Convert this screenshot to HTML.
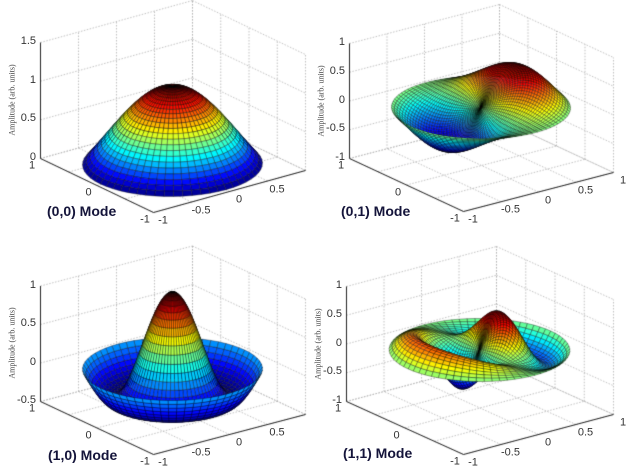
<!DOCTYPE html>
<html><head><meta charset="utf-8"><style>
html,body{margin:0;padding:0;background:#fff;}
#c{position:absolute;left:0;top:0;}
.t{position:absolute;font-family:"Liberation Sans",sans-serif;font-size:11px;color:#333;line-height:11px;white-space:nowrap;}
.m{position:absolute;font-family:"Liberation Sans",sans-serif;font-weight:bold;font-size:14px;color:#14143a;white-space:nowrap;}
.a{position:absolute;font-family:"Liberation Serif",serif;font-size:8px;color:#444;white-space:nowrap;transform:translate(-50%,-50%) rotate(-90deg);}
</style></head><body>
<canvas id="c" width="626" height="472"></canvas>
<div id="lab"></div>
<script>
function fact(n){let f=1;for(let i=2;i<=n;i++)f*=i;return f;}
function J(n,x){let s=0;for(let k=0;k<30;k++){s+=Math.pow(-1,k)/(fact(k)*fact(k+n))*Math.pow(x/2,2*k+n);}return s;}
function jet(v){v=Math.max(0,Math.min(1,v));
 function c(x){return Math.max(0,Math.min(1,x));}
 let r=c(1.5-Math.abs(4*v-3)),g=c(1.5-Math.abs(4*v-2)),b=c(1.5-Math.abs(4*v-1));
 return 'rgb('+Math.round(r*255)+','+Math.round(g*255)+','+Math.round(b*255)+')';}
const ctx=document.getElementById('c').getContext('2d');
const lab=document.getElementById('lab');
function addText(cls,txt,x,y,extra){const d=document.createElement('div');d.className=cls;d.textContent=txt;d.style.left=x+'px';d.style.top=y+'px';if(extra)Object.assign(d.style,extra);lab.appendChild(d);return d;}
const panels=[
 {L:[40,158],F:[153,212],R:[305,170],zmin:0,zmax:1.5,zs:77.3,ticks:[0,0.5,1,1.5],f:(r,t)=>J(0,2.405*r),nr:24,nt:60,mode:'(0,0) Mode',mx:47,my:203,showX1:false},
 {L:[349,158],F:[463,211],R:[613,172],zmin:-1,zmax:1,zs:57.5,ticks:[-1,-0.5,0,0.5,1],f:(r,t)=>J(1,3.832*r)*Math.cos(t),nr:34,nt:90,mode:'(0,1) Mode',mx:341,my:203,showX1:true},
 {L:[40,401],F:[153,454],R:[305,414],zmin:-0.5,zmax:1,zs:77,ticks:[-0.5,0,0.5,1],f:(r,t)=>J(0,5.520*r),nr:30,nt:64,mode:'(1,0) Mode',mx:48,my:447,showX1:false},
 {L:[346,401],F:[463,454],R:[613,414],zmin:-1,zmax:1,zs:57.5,ticks:[-1,-0.5,0,0.5,1],f:(r,t)=>J(1,7.016*r)*Math.cos(t),nr:30,nt:72,mode:'(1,1) Mode',mx:343,my:445,showX1:true}
];
const RS=0.95;
function fmt(v){return String(v);}
panels.forEach(p=>{
 const ex=[(p.R[0]-p.F[0])/2,(p.R[1]-p.F[1])/2], ey=[(p.L[0]-p.F[0])/2,(p.L[1]-p.F[1])/2];
 function base(x,y){return [p.F[0]+(x+1)*ex[0]+(y+1)*ey[0], p.F[1]+(x+1)*ex[1]+(y+1)*ey[1]];}
 function P(x,y,z){const b=base(x,y);return [b[0],b[1]-(z-p.zmin)*p.zs];}
 ctx.save();ctx.strokeStyle='#b0b0b0';ctx.lineWidth=0.8;ctx.setLineDash([1.5,1.5]);
 function line(a,b){ctx.beginPath();ctx.moveTo(a[0]+0.5,a[1]+0.5);ctx.lineTo(b[0]+0.5,b[1]+0.5);ctx.stroke();}
 const tk=[-1,-0.5,0,0.5,1];
 tk.forEach(t=>{
  line(P(t,-1,p.zmin),P(t,1,p.zmin)); line(P(-1,t,p.zmin),P(1,t,p.zmin));
  line(P(t,1,p.zmin),P(t,1,p.zmax)); line(P(1,t,p.zmin),P(1,t,p.zmax));
 });
 p.ticks.forEach(z=>{line(P(-1,1,z),P(1,1,z));line(P(1,1,z),P(1,-1,z));});
 ctx.restore();
 const faces=[];
 const pts=[];
 for(let i=0;i<=p.nr;i++){pts[i]=[];for(let j=0;j<=p.nt;j++){const r=i/p.nr,t=2*Math.PI*j/p.nt;const x=RS*r*Math.cos(t),y=RS*r*Math.sin(t);const z=p.f(r,t);pts[i][j]={x,y,z,s:P(x,y,z),by:base(x,y)[1]};}}
 let mn=1e9,mx=-1e9;
 for(let i=0;i<=p.nr;i++)for(let j=0;j<=p.nt;j++){mn=Math.min(mn,pts[i][j].z);mx=Math.max(mx,pts[i][j].z);}
 for(let i=0;i<p.nr;i++)for(let j=0;j<p.nt;j++){
  const q=[pts[i][j],pts[i+1][j],pts[i+1][j+1],pts[i][j+1]];
  let z=0,by=0;q.forEach(a=>{z+=a.z;by+=a.by;});z/=4;by/=4;
  faces.push({q,z,d:by*2.05+(z-p.zmin)*p.zs*0.49});
 }
 faces.sort((a,b)=>a.d-b.d);
 ctx.lineWidth=0.45;ctx.strokeStyle='rgba(0,0,0,0.75)';
 faces.forEach(fc=>{
  ctx.beginPath();fc.q.forEach((a,k)=>{k?ctx.lineTo(a.s[0],a.s[1]):ctx.moveTo(a.s[0],a.s[1]);});ctx.closePath();
  ctx.fillStyle=jet((fc.z-mn)/(mx-mn));ctx.fill();ctx.stroke();
 });
 ctx.strokeStyle='#222';ctx.lineWidth=1;ctx.setLineDash([]);
 function sline(a,b){ctx.beginPath();ctx.moveTo(a[0]+0.5,a[1]+0.5);ctx.lineTo(b[0]+0.5,b[1]+0.5);ctx.stroke();}
 sline(P(-1,1,p.zmin),P(-1,-1,p.zmin));sline(P(-1,-1,p.zmin),P(1,-1,p.zmin));sline(P(-1,1,p.zmin),P(-1,1,p.zmax));
 p.ticks.forEach(z=>{const a=P(-1,1,z);addText('t',fmt(z),a[0]-4,a[1]-6,{transform:'translateX(-100%)'});});
 [-1,0,1].forEach(y=>{const a=P(-1,y,p.zmin);addText('t',fmt(y),a[0]-8,a[1]+8,{transform:'translate(-50%,-50%)'});});
 tk.forEach(x=>{if(x===1&&!p.showX1)return;const a=P(x,-1,p.zmin);addText('t',fmt(x),a[0]+10,a[1]+9,{transform:'translate(-50%,-50%)'});});
 const mid=(p.L[1]+P(-1,1,p.zmax)[1])/2;
 addText('a','Amplitude (arb. units)',p.L[0]-28,mid);
 addText('m',p.mode,p.mx,p.my);
});
</script>
</body></html>
